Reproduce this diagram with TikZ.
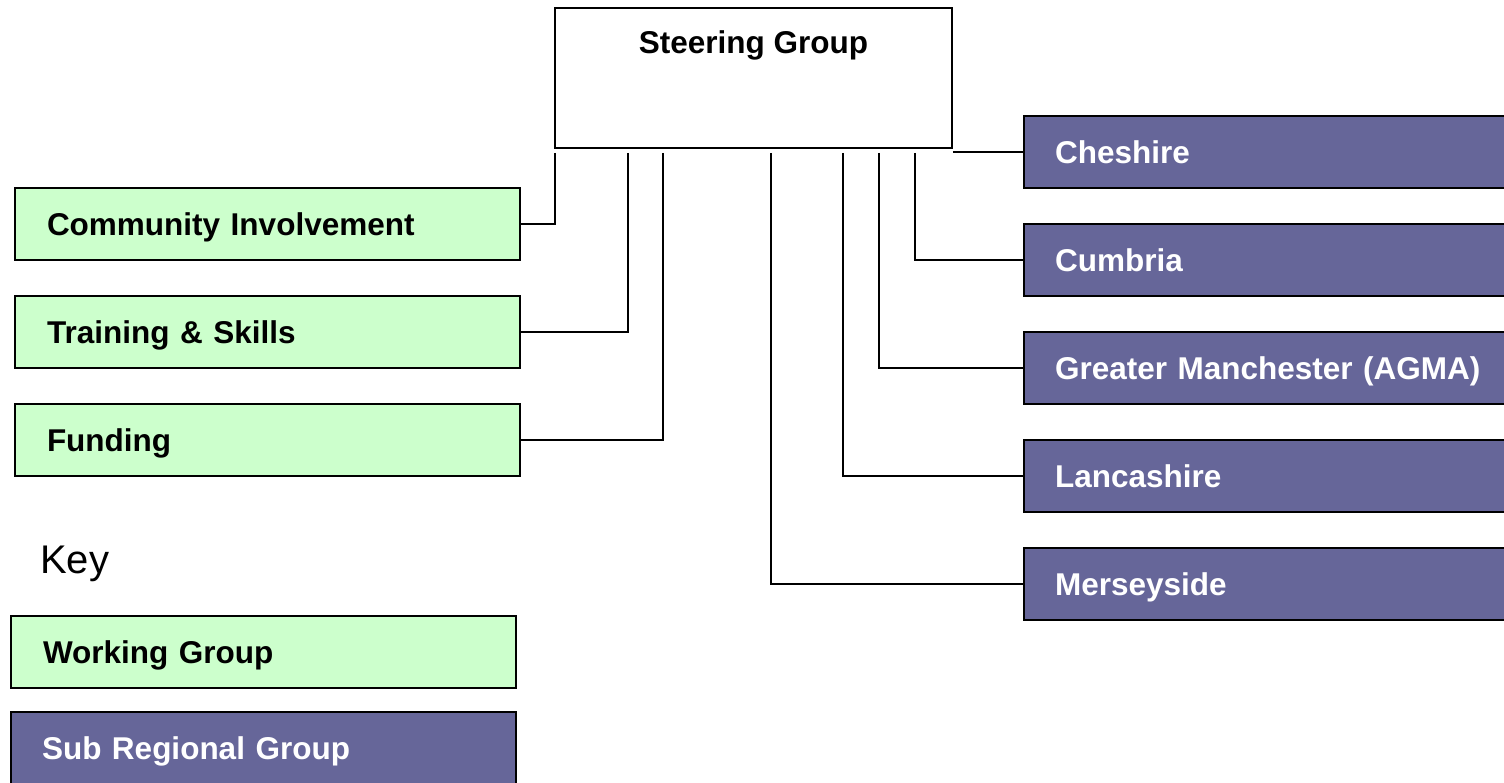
\documentclass[tikz,border=0pt]{standalone}
\usepackage{fontspec}
\setmainfont{Liberation Sans}
\definecolor{wgreen}{HTML}{CCFFCC}
\definecolor{srpurple}{HTML}{666699}
\tikzset{
  box/.style={draw=black, line width=1.6pt, inner ysep=0pt, align=left,
    font=\bfseries\fontsize{31.5}{36}\selectfont, text height=22.6pt, text depth=0pt,
    minimum height=72pt},
  wg/.style={box, fill=wgreen, text=black, minimum width=505pt, text width=441pt, inner xsep=32pt},
  sr/.style={box, fill=srpurple, text=white, minimum width=482pt, text width=420pt, inner xsep=31pt},
  sgbox/.style={draw=black, line width=1.6pt, fill=white, minimum width=397pt, minimum height=140pt,
    inner ysep=23pt, text height=22.6pt, text depth=71.4pt, align=center,
    font=\bfseries\fontsize{31.5}{36}\selectfont},
  conn/.style={draw=black, line width=1.5pt}
}
\begin{document}
\begin{tikzpicture}[x=1pt,y=-1pt]
\useasboundingbox (0,0) rectangle (1504,783);
\clip (0,0) rectangle (1504,783);
\fill[white] (0,0) rectangle (1504,783);

\node[sgbox] (sg) at (753.5,78) {Steering Group};

\node[wg] (ci) at (267.5,224) {Community Involvement};
\node[wg] (ts) at (267.5,332) {Training \& Skills};
\node[wg] (fu) at (267.5,440) {Funding};

\node[sr] (ch) at (1265,152) {Cheshire};
\node[sr] (cu) at (1265,260) {Cumbria};
\node[sr] (gm) at (1265,368) {\mbox{Greater Manchester (AGMA)}};
\node[sr] (la) at (1265,476) {Lancashire};
\node[sr] (me) at (1265,584) {Merseyside};

\node[anchor=base west, inner sep=0pt, font=\fontsize{40}{44}\selectfont] (key) at (40,573) {Key};
\node[wg] (kwg) at (263.5,652) {Working Group};
\node[sr, minimum width=505pt, text width=443pt, inner xsep=31pt] (ksr) at (263.5,748) {Sub Regional Group};

\coordinate (c1) at ([xshift=1pt,yshift=-4pt]sg.south west);
\coordinate (c2) at ([xshift=74pt,yshift=-4pt]sg.south west);
\coordinate (c3) at ([xshift=109pt,yshift=-4pt]sg.south west);
\coordinate (c4) at ([xshift=217pt,yshift=-4pt]sg.south west);
\coordinate (c5) at ([xshift=289pt,yshift=-4pt]sg.south west);
\coordinate (c6) at ([xshift=325pt,yshift=-4pt]sg.south west);
\coordinate (c7) at ([xshift=361pt,yshift=-4pt]sg.south west);
\coordinate (c8) at (sg.east |- ch.west);

\draw[conn] (c1) |- (ci.east);
\draw[conn] (c2) |- (ts.east);
\draw[conn] (c3) |- (fu.east);
\draw[conn] (c4) |- (me.west);
\draw[conn] (c5) |- (la.west);
\draw[conn] (c6) |- (gm.west);
\draw[conn] (c7) |- (cu.west);
\draw[conn] (c8) -- (ch.west);
\end{tikzpicture}
\end{document}
